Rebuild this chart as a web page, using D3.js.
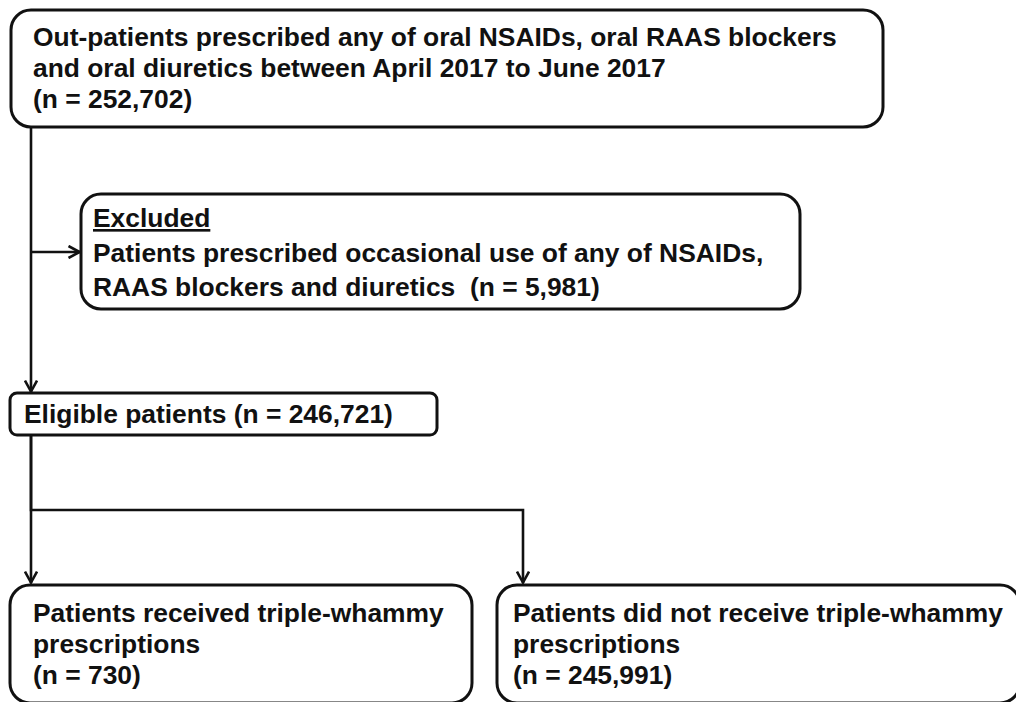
<!DOCTYPE html>
<html>
<head>
<meta charset="utf-8">
<script src="https://cdn.jsdelivr.net/npm/d3@7"></script>
<style>
  body { margin: 0; background: #fff; }
  svg text {
    font-family: "Liberation Sans", Arial, sans-serif;
    font-weight: bold;
    font-size: 26.4px;
    fill: #111;
    white-space: pre;
  }
</style>
</head>
<body>
<svg></svg>
<script>
  // flow stages, top to bottom
  const stageIds = ['source', 'excluded', 'eligible', 'triple', 'noTriple']
  const stageHeadings = [null, 'Excluded', null, null, null]
  const stageLines = [
    ['Out-patients prescribed any of oral NSAIDs, oral RAAS blockers',
     'and oral diuretics between April 2017 to June 2017'],
    ['Patients prescribed occasional use of any of NSAIDs,',
     'RAAS blockers and diuretics'],
    ['Eligible patients'],
    ['Patients received triple-whammy', 'prescriptions'],
    ['Patients did not receive triple-whammy', 'prescriptions']
  ]
  const stageCounts = [252702, 5981, 246721, 730, 245991]

  // links between stages: [from, to]
  const links = [['source', 'eligible'], ['source', 'excluded'], ['eligible', 'triple'], ['eligible', 'noTriple']]

  const width = 1016
  const height = 702
  const fmt = d3.format(',')

  // box geometry and where the count goes
  const layout = {
    source:   {x: 11, y: 10, w: 872, h: 117, r: 20, tx: 33, ty: 46, lh: 31, countOwnLine: true, sep: ''},
    excluded: {x: 81, y: 194, w: 719, h: 115, r: 20, tx: 93, ty: 227, lh: 34.5, countOwnLine: false, sep: '  '},
    eligible: {x: 10, y: 393, w: 427, h: 42, r: 7, tx: 24, ty: 423, lh: 31, countOwnLine: false, sep: ' '},
    triple:   {x: 10, y: 585, w: 462, h: 118, r: 20, tx: 33, ty: 622, lh: 31, countOwnLine: true, sep: ''},
    noTriple: {x: 497, y: 585, w: 523, h: 118, r: 20, tx: 513, ty: 622, lh: 31, countOwnLine: true, sep: ''}
  }

  const stages = stageIds.map((id, i) => {
    let lines = stageLines[i].slice()
    const countText = '(n = ' + fmt(stageCounts[i]) + ')'
    if (layout[id].countOwnLine) {
      lines.push(countText)
    } else {
      lines[lines.length - 1] += layout[id].sep + countText
    }
    if (stageHeadings[i]) lines.unshift(stageHeadings[i])
    return {id: id, heading: stageHeadings[i], lines: lines, box: layout[id]}
  })

  const svg = d3.select('svg')
    .attr('width', width)
    .attr('height', height)

  svg.append('defs')
    .append('marker')
    .attr('id', 'arrow')
    .attr('viewBox', '0 0 14 14')
    .attr('refX', 13)
    .attr('refY', 7)
    .attr('markerWidth', 14)
    .attr('markerHeight', 14)
    .attr('markerUnits', 'userSpaceOnUse')
    .attr('orient', 'auto')
    .append('path')
    .attr('d', 'M1.5,1 L12.5,7 L1.5,13')
    .attr('fill', 'none')
    .attr('stroke', '#111')
    .attr('stroke-width', 2.6)

  const trunkX = 31
  const splitY = 510

  // connector paths
  function linkPath(from, to) {
    const a = layout[from]
    const b = layout[to]
    if (from === 'source' && to === 'eligible') {
      return d3.line()([[trunkX, a.y + a.h], [trunkX, b.y - 1]])
    }
    if (from === 'source' && to === 'excluded') {
      const y = 252
      return d3.line()([[trunkX, y], [b.x - 1, y]])
    }
    if (from === 'eligible') {
      const x = to === 'triple' ? trunkX : b.x + 26
      return d3.line()([[trunkX, a.y + a.h], [trunkX, splitY], [x, splitY], [x, b.y - 2]])
    }
  }

  svg.append('g')
    .selectAll('.link')
    .data(links)
    .enter()
    .append('path')
    .classed('link', true)
    .attr('d', d => linkPath(d[0], d[1]))
    .attr('fill', 'none')
    .attr('stroke', '#111')
    .attr('stroke-width', 2.6)
    .attr('marker-end', 'url(#arrow)')

  const box = svg.append('g')
    .selectAll('.stage')
    .data(stages)
    .enter()
    .append('g')
    .classed('stage', true)

  box.append('rect')
    .attr('x', d => d.box.x)
    .attr('y', d => d.box.y)
    .attr('width', d => d.box.w)
    .attr('height', d => d.box.h)
    .attr('rx', d => d.box.r)
    .attr('fill', '#fff')
    .attr('stroke', '#111')
    .attr('stroke-width', 3)

  box.each(function (d) {
    d3.select(this)
      .selectAll('text')
      .data(d.lines)
      .enter()
      .append('text')
      .attr('x', d.box.tx)
      .attr('y', (l, i) => d.box.ty + i * d.box.lh)
      .style('text-decoration', (l, i) => (d.heading && i === 0) ? 'underline' : null)
      .text(l => l)
  })
</script>
</body>
</html>
